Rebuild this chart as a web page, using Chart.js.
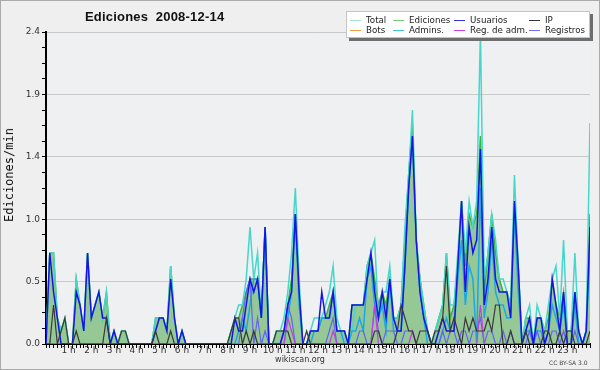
<!DOCTYPE html>
<html>
<head>
<meta charset="utf-8">
<script src="https://cdn.jsdelivr.net/npm/chart.js@4/dist/chart.umd.min.js"></script>
<style>
  body { margin: 0; background: #fff; }
  #wrap { position: relative; width: 600px; height: 370px; background: #efefef; overflow: hidden; font-family: 'DejaVu Sans', sans-serif; }
  #c { position: absolute; left: 0; top: 0; }
  #frame { position: absolute; left: 0; top: 0; width: 598px; height: 368px; border: 1px solid #ababab; pointer-events: none; }
  #title { position: absolute; left: 85px; top: 9px; font: bold 13px 'Liberation Sans', sans-serif; letter-spacing: 0.2px; color: #111; white-space: nowrap; }
  #ytitle { position: absolute; left: 9px; top: 175px; transform: translate(-50%, -50%) rotate(-90deg); font: 12px 'DejaVu Sans Mono', monospace; color: #111; white-space: nowrap; }
  #legend { position: absolute; left: 346px; top: 11px; width: 244px; height: 27px; box-sizing: border-box; background: #fff; border: 1px solid #c4c4c4; box-shadow: 3px 3px 0 #6e6e6e; }
  #legend span { position: absolute; font-size: 8.7px; line-height: 10px; color: #222; white-space: nowrap; }
  #legend i { display: inline-block; width: 11px; height: 1px; vertical-align: middle; margin-right: 5px; }
  #site { position: absolute; left: 300px; top: 355px; transform: translateX(-50%); font-size: 8px; color: #333; }
  #cc { position: absolute; left: 549px; top: 359px; font-size: 6px; color: #444; }
</style>
</head>
<body>
<div id="wrap">
  <canvas id="c" width="600" height="370"></canvas>
  <div id="title">Ediciones&nbsp;&nbsp;2008-12-14</div>
  <div id="ytitle">Ediciones/min</div>
  <div id="legend">
    <span style="left:3px;top:3px"><i style="background:#a6e2de"></i>Total</span>
    <span style="left:46px;top:3px"><i style="background:#7ccc7c"></i>Ediciones</span>
    <span style="left:107px;top:3px"><i style="background:#3434e0"></i>Usuarios</span>
    <span style="left:182px;top:3px"><i style="background:#333"></i>IP</span>
    <span style="left:3px;top:13px"><i style="background:#f0a040"></i>Bots</span>
    <span style="left:46px;top:13px"><i style="background:#3cc8dc"></i>Admins.</span>
    <span style="left:107px;top:13px"><i style="background:#d040e0"></i>Reg. de adm.</span>
    <span style="left:182px;top:13px"><i style="background:#7070f0"></i>Registros</span>
  </div>
  <div id="site">wikiscan.org</div>
  <div id="cc">CC BY-SA 3.0</div>
  <div id="frame"></div>
</div>
<script>
const hourLabels = ['1 h', '2 h', '3 h', '4 h', '5 h', '6 h', '7 h', '8 h', '9 h', '10 h', '11 h', '12 h',
  '13 h', '14 h', '15 h', '16 h', '17 h', '18 h', '19 h', '20 h', '21 h', '22 h', '23 h'];
const yLabels = ['0.0', '0.5', '1.0', '1.4', '1.9', '2.4'];
const yTickValues = [0, 0.12, 0.24, 0.36, 0.48, 0.6, 0.72, 0.84, 0.96, 1.08, 1.2, 1.32, 1.44,
  1.56, 1.68, 1.8, 1.92, 2.04, 2.16, 2.28, 2.4];

// one value every 10 minutes, 0 h .. 24 h
const ediciones = [
  0, .7, .7, .2, .1, .2,   0, 0, .5, .3, .1, .7,   .2, .3, .4, .2, .4, 0,   .1, 0, .1, .1, 0, 0,
  0, 0, 0, 0, 0, .2,   .2, .2, .1, .6, .2, 0,   .1, 0, 0, 0, 0, 0,   0, 0, 0, 0, 0, 0,
  0, .1, .2, .2, .3, .4,   .5, .5, .5, .2, .9, 0,   0, .1, .1, .1, .3, .5,   1.0, .4, 0, 0, .1, .1,
  .1, .2, .2, .3, .4, .1,   .1, .1, 0, .3, .3, .3,   .3, .6, .7, .5, .3, .4,   .3, .5, .2, .2, .3, .8,
  1.3, 1.7, .8, .5, .3, .1,   0, .1, .2, .3, .7, .2,   .3, .6, 1.1, .6, 1.0, .9,   1.0, 1.6, .4, .7, 1.0, .7,
  .5, .4, .4, .3, 1.1, .6,   0, .2, .2, 0, .2, .2,   .1, .2, .5, .3, .2, .4,   .1, .1, .4, .1, 0, .1,
  1.0
];
const usuarios = [
  0, .7, .4, .2, 0, 0,   0, 0, .4, .3, .1, .7,   .2, .3, .4, .2, .2, 0,   .1, 0, 0, 0, 0, 0,
  0, 0, 0, 0, 0, .1,   .2, .2, .1, .5, .2, 0,   .1, 0, 0, 0, 0, 0,   0, 0, 0, 0, 0, 0,
  0, 0, .2, .1, .1, .3,   .5, .4, .5, .2, .9, 0,   0, 0, 0, .1, .3, .4,   1.0, .4, 0, 0, .1, .1,
  .1, .4, .2, .2, .4, .1,   .1, .1, 0, .3, .3, .3,   .3, .5, .7, .4, .2, .4,   .2, .5, .2, .1, .1, .6,
  1.2, 1.6, .8, .4, .2, .1,   0, 0, .1, .2, .1, .1,   .1, .6, 1.1, .4, .9, .7,   .8, 1.5, .3, .5, .9, .5,
  .4, .4, .4, .2, 1.1, .6,   0, .1, .2, 0, .2, .2,   0, .1, .5, .3, .1, .4,   0, 0, .4, .1, 0, .1,
  .9
];
const ip = [
  0, 0, .3, 0, .1, .2,   0, 0, .1, 0, 0, 0,   0, 0, 0, 0, .2, 0,   0, 0, .1, .1, 0, 0,
  0, 0, 0, 0, 0, .1,   0, 0, 0, .1, 0, 0,   0, 0, 0, 0, 0, 0,   0, 0, 0, 0, 0, 0,
  0, .1, .2, .2, 0, .1,   0, .1, 0, 0, 0, 0,   0, .1, .1, .1, .1, 0,   0, 0, 0, .1, 0, 0,
  0, 0, 0, 0, 0, 0,   0, 0, 0, 0, 0, 0,   0, 0, 0, .1, .1, 0,   0, 0, 0, .1, .3, .2,
  .1, .1, 0, .1, .1, .1,   0, .1, .1, .2, .6, .1,   .2, .1, 0, .2, .1, .2,   .1, .1, .1, .2, .1, .3,
  .3, 0, 0, .1, 0, 0,   0, .1, 0, 0, 0, 0,   .1, .1, 0, 0, .1, 0,   .1, .1, 0, 0, 0, 0,
  .1
];
const total = [
  0, .7, .7, .2, .1, .2,   0, 0, .5, .3, .1, .7,   .2, .3, .4, .2, .4, 0,   .1, 0, .1, .1, 0, 0,
  0, 0, 0, 0, 0, .2,   .2, .2, .1, .6, .2, 0,   .1, 0, 0, 0, 0, 0,   0, 0, 0, 0, 0, 0,
  0, .1, .2, .3, .3, .5,   .9, .5, .7, .2, .9, 0,   0, .1, .1, .2, .4, .7,   1.2, .5, 0, 0, .1, .2,
  .2, .2, .3, .4, .6, .2,   .1, .1, 0, .1, .3, .3,   .3, .6, .7, .8, .2, .4,   .4, .6, .2, .2, .3, .9,
  1.3, 1.8, .8, .5, .3, .1,   0, .1, .2, .3, .7, .3,   .3, .7, 1.1, .7, 1.1, .9,   1.1, 2.4, .5, .7, 1.0, .8,
  .5, .5, .4, .3, 1.3, .6,   0, .2, .3, 0, .3, .2,   .1, .3, .5, .6, .2, .8,   .1, .1, .7, .1, 0, .1,
  1.7
];
const admins = [
  0, 0, 0, 0, 0, 0,   0, 0, 0, 0, 0, 0,   0, 0, 0, 0, 0, 0,   0, 0, 0, 0, 0, 0,
  0, 0, 0, 0, 0, 0,   0, 0, 0, 0, 0, 0,   0, 0, 0, 0, 0, 0,   0, 0, 0, 0, 0, 0,
  0, 0, 0, .1, .2, .1,   .3, .5, .5, .2, .9, 0,   0, 0, 0, 0, .2, .4,   1.0, .3, 0, 0, 0, .1,
  .1, .2, .2, .2, .4, .1,   .1, 0, 0, .1, .1, .2,   .1, .5, .6, .3, .2, .3,   .1, .5, .1, .1, .1, .6,
  1.2, 1.6, .8, .4, .2, 0,   0, 0, 0, .1, .2, .1,   .1, .5, .8, .3, .6, .5,   0, 1.2, .2, .4, .8, .4,
  .3, .3, .2, .2, 1.0, .4,   0, .1, .1, 0, .1, .1,   0, .1, .3, .2, .1, .3,   0, 0, .3, 0, 0, .1,
  .7
];
const registros = [
  0, 0, 0, 0, 0, 0,   0, 0, 0, 0, 0, 0,   0, 0, 0, 0, 0, 0,   0, 0, 0, 0, 0, 0,
  0, 0, 0, 0, 0, 0,   0, 0, 0, 0, 0, 0,   0, 0, 0, 0, 0, 0,   0, 0, 0, 0, 0, 0,
  0, 0, 0, 0, .2, .4,   .5, 0, .2, 0, .1, 0,   0, 0, 0, .1, .3, .2,   0, 0, 0, 0, 0, 0,
  0, 0, 0, .1, .2, 0,   0, 0, 0, 0, 0, .1,   .1, 0, 0, .3, .1, 0,   .1, .1, .1, 0, 0, .1,
  .1, .1, 0, 0, 0, 0,   0, 0, 0, .1, 0, .1,   .1, 0, .1, .1, 0, .1,   .1, .2, 0, .1, .1, 0,
  0, .1, 0, .1, 0, 0,   0, 0, .1, 0, .1, 0,   0, 0, .1, .1, 0, .1,   0, 0, .1, 0, 0, 0,
  0
];
const regAdm = [
  0, 0, 0, 0, 0, 0,   0, 0, 0, 0, 0, 0,   0, 0, 0, 0, 0, 0,   0, 0, 0, 0, 0, 0,
  0, 0, 0, 0, 0, 0,   0, 0, 0, 0, 0, 0,   0, 0, 0, 0, 0, 0,   0, 0, 0, 0, 0, 0,
  0, 0, 0, 0, 0, 0,   0, 0, 0, 0, 0, 0,   0, 0, 0, 0, .2, .1,   0, 0, 0, 0, 0, 0,
  0, 0, 0, 0, .1, 0,   0, 0, 0, 0, 0, 0,   0, 0, 0, .3, 0, 0,   0, 0, 0, 0, 0, 0,
  0, .1, 0, 0, 0, 0,   0, 0, 0, 0, 0, 0,   0, 0, 0, 0, 0, 0,   0, .3, 0, 0, 0, 0,
  0, 0, 0, 0, 0, 0,   0, 0, 0, 0, 0, 0,   0, 0, 0, 0, 0, 0,   0, 0, 0, 0, 0, 0,
  0
];
const bots = ediciones.map(() => 0);
const steps = ediciones.map((v, i) => i);

const plotBg = {
  id: 'plotBg',
  beforeDraw(chart) {
    const { ctx, chartArea: a } = chart;
    ctx.save();
    ctx.fillStyle = '#eff0f2';
    ctx.fillRect(a.left, a.top, a.right - a.left, a.bottom - a.top);
    ctx.restore();
  }
};

function line(label, data, color, order, width) {
  return { label, data, borderColor: color, borderWidth: width || 1.4, order, fill: false };
}

const tickFont = { family: 'DejaVu Sans', size: 9 };

new Chart(document.getElementById('c'), {
  type: 'line',
  data: {
    labels: steps,
    datasets: [
      { label: 'Ediciones', data: ediciones, borderColor: '#3cb43c', backgroundColor: '#96c896', borderWidth: 1.5, fill: 'origin', order: 10 },
      line('Bots', bots, '#f0a040', 9),
      line('Total', total, '#46d6ca', 8, 1.5),
      line('Admins.', admins, '#1ea8e0', 7, 1.5),
      line('Registros', registros, '#6464f0', 6, 1.2),
      line('Reg. de adm.', regAdm, '#c83ce0', 5, 1.2),
      line('Usuarios', usuarios, '#1414e6', 3, 1.5),
      line('IP', ip, '#383838', 2, 1.2)
    ]
  },
  options: {
    responsive: false,
    animation: false,
    layout: { padding: { top: 32, right: 10, left: 0, bottom: 0 } },
    elements: { point: { radius: 0 }, line: { tension: 0 } },
    plugins: { legend: { display: false }, tooltip: { enabled: false } },
    scales: {
      x: {
        type: 'linear', min: 0, max: 144, z: 1,
        afterFit: s => { s.height = 26; },
        border: { color: '#000', width: 2 },
        grid: { drawOnChartArea: false, tickLength: 4, tickColor: '#000' },
        ticks: {
          stepSize: 1, autoSkip: false, maxRotation: 0, padding: -3, color: '#333', font: tickFont,
          callback: v => (v % 6 === 0 && v > 0 && v < 144) ? hourLabels[v / 6 - 1] : ''
        }
      },
      y: {
        min: 0, max: 2.4,
        afterFit: s => { s.width = 46; },
        afterBuildTicks: s => { s.ticks = yTickValues.map(v => ({ value: v })); },
        border: { color: '#000', width: 2 },
        grid: {
          color: c => (c.index % 4 === 0 && c.index > 0) ? '#c9c9c9' : 'rgba(0,0,0,0)',
          tickLength: 4, tickColor: '#000'
        },
        ticks: {
          autoSkip: false, padding: 2, color: '#333', font: tickFont,
          callback: (v, i) => i % 4 === 0 ? yLabels[i / 4] : ''
        }
      }
    }
  },
  plugins: [plotBg]
});
</script>
</body>
</html>
